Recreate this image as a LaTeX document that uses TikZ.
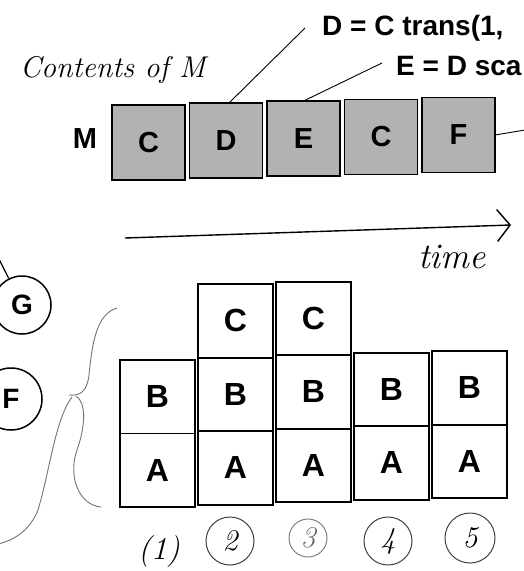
\documentclass[tikz,border=0pt]{standalone}
\usepackage{fontspec}
\setsansfont{Liberation Sans}
\usetikzlibrary{positioning}
\usetikzlibrary{calc}
\usetikzlibrary{arrows.meta}

\tikzset{
  cell/.style={draw, line width=1.6pt, outer sep=0pt, inner sep=0pt,
    minimum width=73pt, minimum height=75pt, fill=black!30,
    font=\sffamily\bfseries\fontsize{29}{31}\selectfont},
  stackcell/.style={draw, line width=1.7pt, outer sep=0pt, inner sep=0pt,
    minimum width=75pt, minimum height=73.5pt,
    font=\sffamily\bfseries\fontsize{32}{34}\selectfont},
  obj/.style={draw, circle, line width=1.5pt, inner sep=0pt,
    font=\sffamily\bfseries\fontsize{28}{30}\selectfont},
  lbl/.style={inner sep=0pt, font=\sffamily\bfseries\fontsize{28}{30}\selectfont},
  hand/.style={inner sep=0pt, font=\itshape\fontsize{30}{32}\selectfont},
  tnum/.style={draw=black!75, circle, line width=1pt, inner sep=0pt,
    minimum size=48pt, font=\itshape\fontsize{30}{32}\selectfont},
  pencil/.style={draw=black!55, line width=0.9pt},
  wire/.style={line width=0.9pt}
}

\begin{document}
\begin{tikzpicture}[x=1pt, y=-1pt]
    \useasboundingbox (0,0) rectangle (524,571);

    % contents of M over time
    \node[hand, anchor=base west] (title) at (20,77) {Contents of M};
    \node[lbl, font=\sffamily\bfseries\fontsize{29}{31}\selectfont] (mname) at (85,139) {M};
    \node[cell] (m1) at (148.5,142.5) {C};
    \node[cell, right=4.5pt of m1, yshift=2pt] (m2) {D};
    \node[cell, right=4.5pt of m2, yshift=2pt] (m3) {E};
    \node[cell, right=4.5pt of m3, yshift=1.5pt] (m4) {C};
    \node[cell, right=4.5pt of m4, yshift=2pt] (m5) {F};

    \node[lbl, anchor=base west] (dlbl) at (322,35) {D = C trans(1,};
    \node[lbl, anchor=base west] (elbl) at (396,75) {E = D sca};
    \coordinate (dend) at (305,28);
    \coordinate (eend) at (382,63);
    \coordinate (fend) at (525,130);
    \draw[wire] ([xshift=3pt]m2.north) -- (dend);
    \draw[wire] (m3.north) -- (eend);
    \draw[wire] (m5.east) -- (fend);

    % time axis
    \coordinate (tstart) at (125,238);
    \coordinate (tend) at (511,225);
    \draw[line width=1.4pt, -{Straight Barb[length=13pt,width=32pt]}] (tstart) -- (tend);
    \node[hand, font=\itshape\fontsize{36}{38}\selectfont] (time) at (452,257) {time};

    % stacks
    \node[stackcell] (a1) at (157.5,470.25) {A};
    \node[stackcell, above=0pt of a1] (b1) {B};
    \node[stackcell, right=3pt of a1, yshift=2.3pt] (a2) {A};
    \node[stackcell, above=0pt of a2] (b2) {B};
    \node[stackcell, above=0pt of b2] (c2) {C};
    \node[stackcell, right=3pt of a2, yshift=2.5pt] (a3) {A};
    \node[stackcell, above=0pt of a3] (b3) {B};
    \node[stackcell, above=0pt of b3] (c3) {C};
    \node[stackcell, right=3pt of a3, yshift=2.5pt] (a4) {A};
    \node[stackcell, above=0pt of a4] (b4) {B};
    \node[stackcell, right=3pt of a4, yshift=1.5pt] (a5) {A};
    \node[stackcell, above=0pt of a5] (b5) {B};

    % step numbers
    \node[hand, font=\itshape\fontsize{32}{34}\selectfont] (n1) at (159,552) {(1)};
    \node[tnum] (n2) at (230,541) {2};
    \node[tnum, draw=black!50, minimum size=38pt, text=black!60] (n3) at (308,538) {3};
    \node[tnum] (n4) at (388,541) {4};
    \node[tnum, minimum size=50pt] (n5) at (470,538) {5};

    % scene objects
    \node[obj, minimum size=58pt] (G) at (22,305) {G};
    \node[obj, minimum size=62pt] (F) at (11,399) {F};
    \coordinate (gin) at (-2,257);
    \draw[line width=1.3pt] (gin) -- (G);

    % braces
    \draw[pencil] (117,308) .. controls (96,314) and (92,345) .. (89,375)
        .. controls (87,392) and (80,396) .. (69,395);
    \draw[pencil] (76,396) .. controls (86,402) and (86,425) .. (77,450)
        .. controls (68,475) and (78,505) .. (101,507);
    \draw[pencil] (72,397) .. controls (55,420) and (50,470) .. (38,510)
        .. controls (30,530) and (15,540) .. (-2,544);
\end{tikzpicture}
\end{document}
